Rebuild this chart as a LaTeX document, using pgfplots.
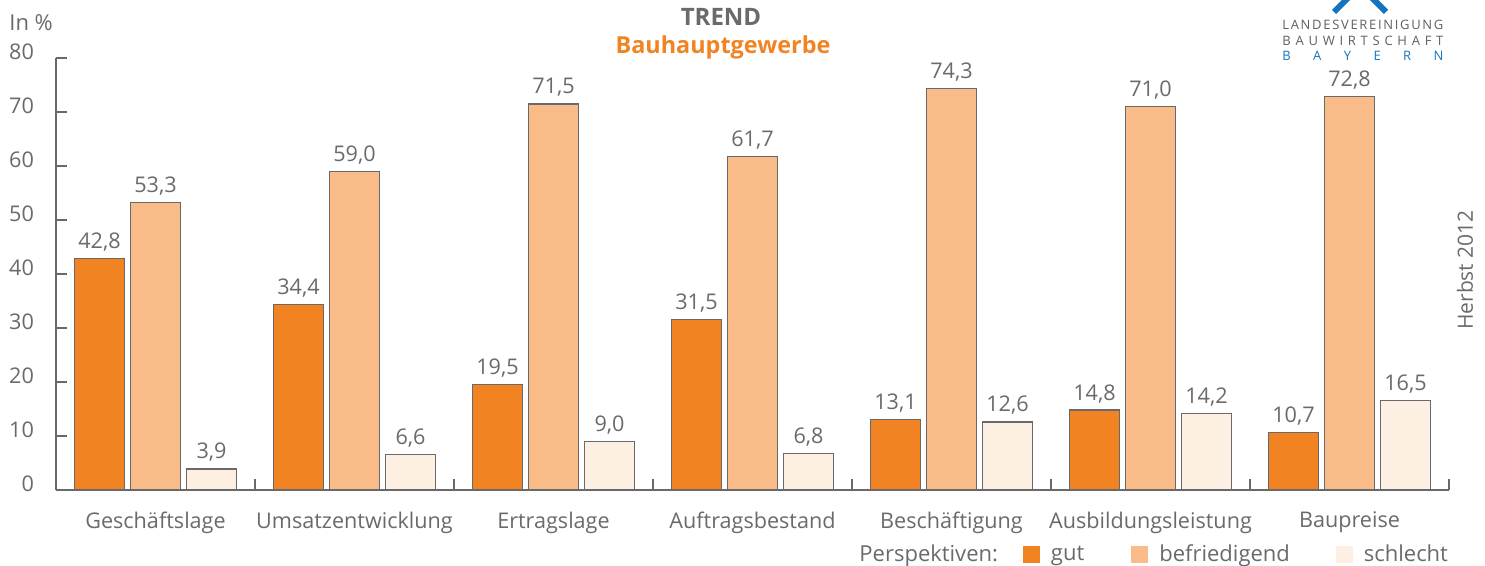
\documentclass[border=0pt]{standalone}
\usepackage{pgfplots}
\pgfplotsset{compat=1.18}
\usepackage{fontspec}
\setmainfont{Open Sans}
\definecolor{gut}{RGB}{242,131,34}
\definecolor{bef}{RGB}{249,187,135}
\definecolor{sch}{RGB}{253,239,225}
\definecolor{edge}{RGB}{105,105,108}
\definecolor{txt}{RGB}{105,106,110}
\definecolor{logogray}{RGB}{95,95,98}
\definecolor{logoblue}{RGB}{20,115,190}
\newcommand{\sz}[1]{\fontsize{#1}{#1}\selectfont}
\begin{document}
\begin{tikzpicture}[x=0.5pt,y=0.5pt]
\useasboundingbox (0,0) rectangle (1485,566);
\begin{axis}[
  at={(28pt,38pt)}, anchor=south west,
  scale only axis, width=696.5pt, height=216pt,
  xmin=-0.5, xmax=6.5, ymin=0, ymax=80,
  clip=false,
  ybar,
  /pgf/number format/assume math mode=true,
  axis lines=left,
  axis line style={-, draw=edge, line width=1pt},
  ytick={0,10,...,80},
  xtick={0.5,1.5,...,6.5},
  xticklabels={Geschäftslage,Umsatzentwicklung,Ertragslage,Auftragsbestand,Beschäftigung,Ausbildungsleistung,Baupreise},
  xticklabel style={xshift=-49.75pt, yshift=-7.5pt, font=\sz{10.8}, text=txt},
  yticklabel style={xshift=-7.5pt, yshift=3pt, font=\sz{10.8}, text=txt},
  major tick length=5.5pt,
  tick align=inside,
  tick style={draw=edge, line width=0.9pt},
  bar width=25pt,
  nodes near coords={\pgfmathprintnumber[fixed,fixed zerofill,precision=1,use comma,assume math mode=true]{\pgfplotspointmeta}},
  every node near coord/.append style={font=\sz{10.8}, text=txt},
  legend style={at={(0.5643,-0.149)}, anchor=west, draw=none, fill=none,
    legend columns=-1, font=\sz{11}, text=txt,
    /tikz/every odd column/.append style={column sep=3.5pt},
    /tikz/every even column/.append style={column sep=14pt}},
  legend image code/.code={\fill[#1,draw=none] (0pt,-4.25pt) rectangle (8.5pt,4.25pt);},
]
\addlegendimage{empty legend}
\addlegendentry{Perspektiven:\kern-3.5pt}
\addplot[bar shift=-28pt, fill=gut, draw=edge, line width=0.6pt] coordinates {(0,42.8) (1,34.4) (2,19.5) (3,31.5) (4,13.1) (5,14.8) (6,10.7)};
\addlegendentry{gut\rule{7.5pt}{0pt}}
\addplot[bar shift=0pt, fill=bef, draw=edge, line width=0.6pt] coordinates {(0,53.3) (1,59.0) (2,71.5) (3,61.7) (4,74.3) (5,71.0) (6,72.8)};
\addlegendentry{befriedigend\rule{7pt}{0pt}}
\addplot[bar shift=28pt, fill=sch, draw=edge, line width=0.6pt] coordinates {(0,3.9) (1,6.6) (2,9.0) (3,6.8) (4,12.6) (5,14.2) (6,16.5)};
\addlegendentry{schlecht}
\end{axis}
\node[font=\bfseries\sz{12}, text=txt] at (721,549) {TREND};
\node[font=\bfseries\sz{11.7}, text=gut] at (723,519) {Bauhauptgewerbe};
\node[anchor=west, inner sep=0pt, font=\sz{11}, text=txt] at (9,543) {In \%};
\node[rotate=90, inner sep=0pt, font=\sz{10.5}, text=txt] at (1465,296) {Herbst 2012};
\draw[logoblue, line width=3pt] (1334,554) -- (1360,580) -- (1386,554);
\node[anchor=west, inner sep=0pt, font=\sz{6.5}, text=logogray] at (1282,541) {\makebox[80.5pt][s]{L\hfill A\hfill N\hfill D\hfill E\hfill S\hfill V\hfill E\hfill R\hfill E\hfill I\hfill N\hfill I\hfill G\hfill U\hfill N\hfill G}};
\node[anchor=west, inner sep=0pt, font=\sz{6.5}, text=logogray] at (1282,525) {\makebox[80.5pt][s]{B\hfill A\hfill U\hfill W\hfill I\hfill R\hfill T\hfill S\hfill C\hfill H\hfill A\hfill F\hfill T}};
\node[anchor=west, inner sep=0pt, font=\sz{6.5}, text=logoblue] at (1282,510) {\makebox[80.5pt][s]{B\hfill A\hfill Y\hfill E\hfill R\hfill N}};
\end{tikzpicture}
\end{document}
